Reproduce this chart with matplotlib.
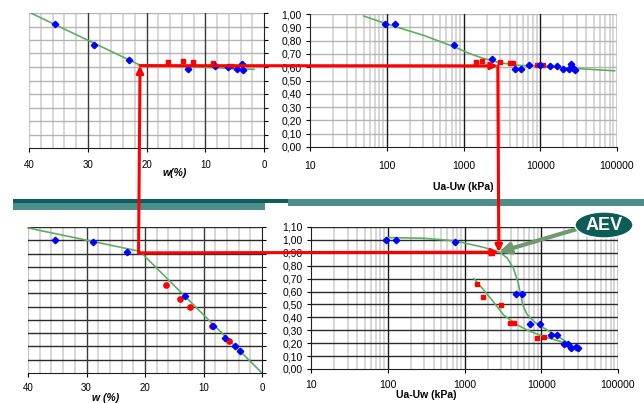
import numpy as np
import matplotlib
matplotlib.use("Agg")
import matplotlib.pyplot as plt
from matplotlib.patches import Rectangle, Ellipse, ConnectionPatch
from matplotlib.ticker import FuncFormatter, NullFormatter

plt.rcParams['font.family'] = ['Liberation Sans', 'DejaVu Sans']

# ---- data ----
# top left : w (%) vs y
tl_blue_w = [35.6, 29.0, 23.0, 13.0, 8.3, 6.1, 4.6, 3.7, 3.6]
tl_blue_y = [0.915, 0.763, 0.654, 0.585, 0.61, 0.60, 0.585, 0.62, 0.578]
tl_red_w = [16.3, 13.8, 12.1, 8.6, 5.6]
tl_red_y = [0.64, 0.646, 0.64, 0.63, 0.61]
tl_fit1_w = [39.7, 21.4]
tl_fit1_y = [1.0, 0.62]
tl_fit2_w = [21.4, 1.7]
tl_fit2_y = [0.617, 0.583]

# top right : suction (kPa) vs y
tr_blue_s = [94, 130, 748, 2320, 4620, 5600, 7200, 10000, 13500, 16300, 20000, 23400, 25200, 26500, 28600]
tr_blue_y = [0.925, 0.925, 0.766, 0.658, 0.583, 0.583, 0.616, 0.616, 0.608, 0.608, 0.59, 0.59, 0.623, 0.595, 0.578]
tr_red_s = [1450, 1750, 3000, 3990, 4400, 9050, 11000]
tr_red_y = [0.64, 0.645, 0.64, 0.633, 0.633, 0.616, 0.616]
tr_fit_s = [50, 100, 300, 750, 1230, 1830, 3000, 5500, 10000, 24600, 93000]
tr_fit_y = [0.985, 0.925, 0.84, 0.754, 0.70, 0.666, 0.633, 0.613, 0.608, 0.593, 0.573]

# bottom left : w (%) vs degree of saturation
bl_blue_w = [35.4, 28.9, 23.0, 13.1, 8.4, 6.3, 4.6, 3.8]
bl_blue_y = [1.0, 0.985, 0.91, 0.58, 0.354, 0.26, 0.20, 0.163]
bl_red_w = [16.35, 14.0, 12.25, 8.6, 5.6]
bl_red_y = [0.66, 0.56, 0.497, 0.357, 0.24]
bl_fit_w = [40, 20.9, 0]
bl_fit_y = [1.093, 0.917, 0.0]

# bottom right : suction (kPa) vs degree of saturation
br_blue_s = [94, 130, 760, 4620, 5600, 7180, 9500, 13450, 16100, 19700, 22600, 24700, 28700, 29900]
br_blue_y = [1.0, 1.0, 0.987, 0.579, 0.579, 0.351, 0.351, 0.264, 0.264, 0.196, 0.196, 0.16, 0.173, 0.16]
br_red_s = [1440, 1760, 2300, 3000, 3940, 4360, 8900, 10900]
br_red_y = [0.661, 0.558, 0.90, 0.499, 0.354, 0.354, 0.24, 0.245]
br_fit1_s = [102, 292, 760, 1760, 2890, 3600, 4320, 5010, 5370, 5820, 6560, 8260, 11700, 19300, 31100]
br_fit1_y = [1.018, 1.013, 0.992, 0.943, 0.904, 0.86, 0.783, 0.667, 0.579, 0.486, 0.421, 0.362, 0.305, 0.227, 0.145]
br_fit2_s = [1330, 1760, 2260, 3200, 4760, 7110, 10600, 19300, 31100]
br_fit2_y = [0.70, 0.615, 0.537, 0.421, 0.344, 0.292, 0.253, 0.207, 0.145]

w_ticks = [40, 30, 20, 10, 0]
s_ticks = [10, 100, 1000, 10000, 100000]

# AEV construction point
w_aev = 21.1
s_aev = 2800
y_top = 0.61
y_bot = 0.905

W, H = 644, 403
fig = plt.figure(figsize=(W / 100, H / 100), dpi=100)

def px(l, t, r, b):
    return [l / W, 1 - b / H, (r - l) / W, (b - t) / H]

ax_tl = fig.add_axes(px(29, 13, 264, 148))
ax_tr = fig.add_axes(px(310, 14, 617, 147))
ax_bl = fig.add_axes(px(28, 227, 262, 373))
ax_br = fig.add_axes(px(311, 227, 618, 369))

blue = '#0000ff'
red = '#ff0000'
green = '#5fae5f'
comma = FuncFormatter(lambda v, p: ('%.2f' % v).replace('.', ','))

def w_grid(ax, ytop, hcol):
    ax.set_xlim(40, 0)
    ax.set_ylim(0, ytop)
    for x in np.arange(2, 40, 2):
        if x % 10:
            ax.axvline(x, color='#d4d4d4', lw=1.3, zorder=0)
    for x in [10, 20, 30]:
        ax.axvline(x, color='#3a3a3a', lw=1.0, zorder=0.5)
    ax.axvline(40, color='#c8c8c8', lw=1.0, zorder=0)
    for y in np.arange(0.1, ytop + 0.01, 0.1):
        ax.axhline(y, color=hcol, lw=1.0, zorder=0.4)
    for s in ['left', 'top']:
        ax.spines[s].set_visible(False)
    ax.spines['right'].set_color('#202020')
    ax.spines['bottom'].set_color('#202020')
    ax.yaxis.tick_right()
    ax.set_yticks(np.arange(0, ytop + 0.01, 0.1))
    ax.yaxis.set_major_formatter(NullFormatter())
    ax.set_xticks(w_ticks)
    ax.tick_params(axis='both', direction='out', length=3, width=0.8, labelsize=7, pad=4)

def s_grid(ax, ytop, hcol):
    ax.set_xscale('log')
    ax.set_xlim(10, 100000)
    ax.set_ylim(0, ytop)
    for k in [10, 100, 1000, 10000]:
        for m in range(2, 10):
            ax.axvline(k * m, color='#d4d4d4', lw=1.3, zorder=0)
    for x in [100, 1000, 10000]:
        ax.axvline(x, color='#1a1a1a', lw=1.0, zorder=0.5)
    ax.axvline(100000, color='#c8c8c8', lw=1.3, zorder=0)
    for y in np.arange(0.1, ytop + 0.01, 0.1):
        ax.axhline(y, color=hcol, lw=1.0, zorder=0.4)
    ax.spines['top'].set_visible(False)
    ax.spines['right'].set_visible(False)
    ax.spines['left'].set_color('#202020')
    ax.spines['bottom'].set_color('#202020')
    ax.set_xticks(s_ticks)
    ax.set_xticklabels(['10', '100', '1000', '10000', '100000'])
    ax.xaxis.set_minor_formatter(NullFormatter())
    ax.tick_params(axis='x', which='minor', length=0)
    ax.set_yticks(np.arange(0, ytop + 0.01, 0.1))
    ax.yaxis.set_major_formatter(comma)
    ax.tick_params(axis='both', direction='out', length=3, width=0.8, labelsize=7.5, pad=3)

w_grid(ax_tl, 1.0, '#b4b4b4')
s_grid(ax_tr, 1.0, '#b4b4b4')
w_grid(ax_bl, 1.1, '#2a2a2a')
s_grid(ax_br, 1.1, '#2a2a2a')
ax_tl.tick_params(axis='x', pad=6)
ax_tr.tick_params(axis='x', pad=7)
ax_br.tick_params(axis='x', pad=5)

# fits and points
ax_tl.plot(tl_fit1_w, tl_fit1_y, color=green, lw=1.2, zorder=2)
ax_tl.plot(tl_fit2_w, tl_fit2_y, color=green, lw=1.2, zorder=2)
ax_tl.plot(tl_red_w, tl_red_y, 's', color=red, ms=3.3, zorder=3)
ax_tl.plot(tl_blue_w, tl_blue_y, 'D', color=blue, ms=3.3, zorder=3)

ax_tr.plot(tr_fit_s, tr_fit_y, color=green, lw=1.2, zorder=2)
ax_tr.plot(tr_red_s, tr_red_y, 's', color=red, ms=3.3, zorder=3)
ax_tr.plot(tr_blue_s, tr_blue_y, 'D', color=blue, ms=3.3, zorder=3)

ax_bl.plot(bl_fit_w, bl_fit_y, color=green, lw=1.2, zorder=2, clip_on=False)
ax_bl.plot(bl_red_w, bl_red_y, 'o', color=red, ms=3.8, zorder=3)
ax_bl.plot(bl_blue_w, bl_blue_y, 'D', color=blue, ms=3.3, zorder=3)

ax_br.plot(br_fit1_s, br_fit1_y, color=green, lw=1.2, zorder=2)
ax_br.plot(br_fit2_s, br_fit2_y, color=green, lw=1.2, zorder=2)
ax_br.plot(br_red_s, br_red_y, 's', color=red, ms=3.3, zorder=3)
ax_br.plot(br_blue_s, br_blue_y, 'D', color=blue, ms=3.3, zorder=3)

# axis titles
fig.text(175 / W, 1 - 173 / H, 'w(%)', fontsize=7.5, fontweight='bold', style='italic', ha='center', va='center')
fig.text(463 / W, 1 - 187 / H, 'Ua-Uw (kPa)', fontsize=7.5, fontweight='bold', ha='center', va='center')
fig.text(106 / W, 1 - 398 / H, 'w (%)', fontsize=7.5, fontweight='bold', style='italic', ha='center', va='center')
fig.text(426 / W, 1 - 395 / H, 'Ua-Uw (kPa)', fontsize=7.5, fontweight='bold', ha='center', va='center')

# teal band across the middle
fig.add_artist(Rectangle((288 / W, 1 - 206 / H), (W - 288) / W, 7 / H, transform=fig.transFigure, color='#4e8e8a', lw=0))
fig.add_artist(Rectangle((13 / W, 1 - 202.5 / H), (288 - 13) / W, 3.5 / H, transform=fig.transFigure, color='#0c5f5a', lw=0))
fig.add_artist(Rectangle((13 / W, 1 - 210 / H), (265 - 13) / W, 7.5 / H, transform=fig.transFigure, color='#4e8e8a', lw=0))

# red construction arrows
def link(pa, axa, pb, axb):
    cp = ConnectionPatch(xyA=pa, coordsA=axa.transData, xyB=pb, coordsB=axb.transData,
                         arrowstyle='-|>', mutation_scale=10,
                         color=red, lw=2.2, shrinkA=0, shrinkB=0, zorder=10)
    fig.add_artist(cp)

link((w_aev, y_bot), ax_bl, (w_aev, y_top), ax_tl)
link((w_aev, y_top), ax_tl, (s_aev, y_top), ax_tr)
link((s_aev, y_top), ax_tr, (s_aev, y_bot), ax_br)
link((w_aev, y_bot), ax_bl, (s_aev, y_bot), ax_br)

# AEV bubble
fig.add_artist(ConnectionPatch(xyA=(577 / W, 1 - 229 / H), coordsA=fig.transFigure,
                               xyB=(s_aev, y_bot), coordsB=ax_br.transData,
                               arrowstyle='-|>', mutation_scale=16, color='#6f9a70', lw=3,
                               shrinkA=0, shrinkB=0, zorder=11))
fig.add_artist(Ellipse((604 / W, 1 - 225 / H), 58 / W, 26 / H, transform=fig.transFigure,
                       facecolor='#0d5d57', edgecolor='white', lw=1, zorder=12))
fig.text(604 / W, 1 - 225 / H, 'AEV', color='white', fontsize=13, fontweight='bold',
         ha='center', va='center', zorder=13)

fig.savefig('out.png', dpi=100)
